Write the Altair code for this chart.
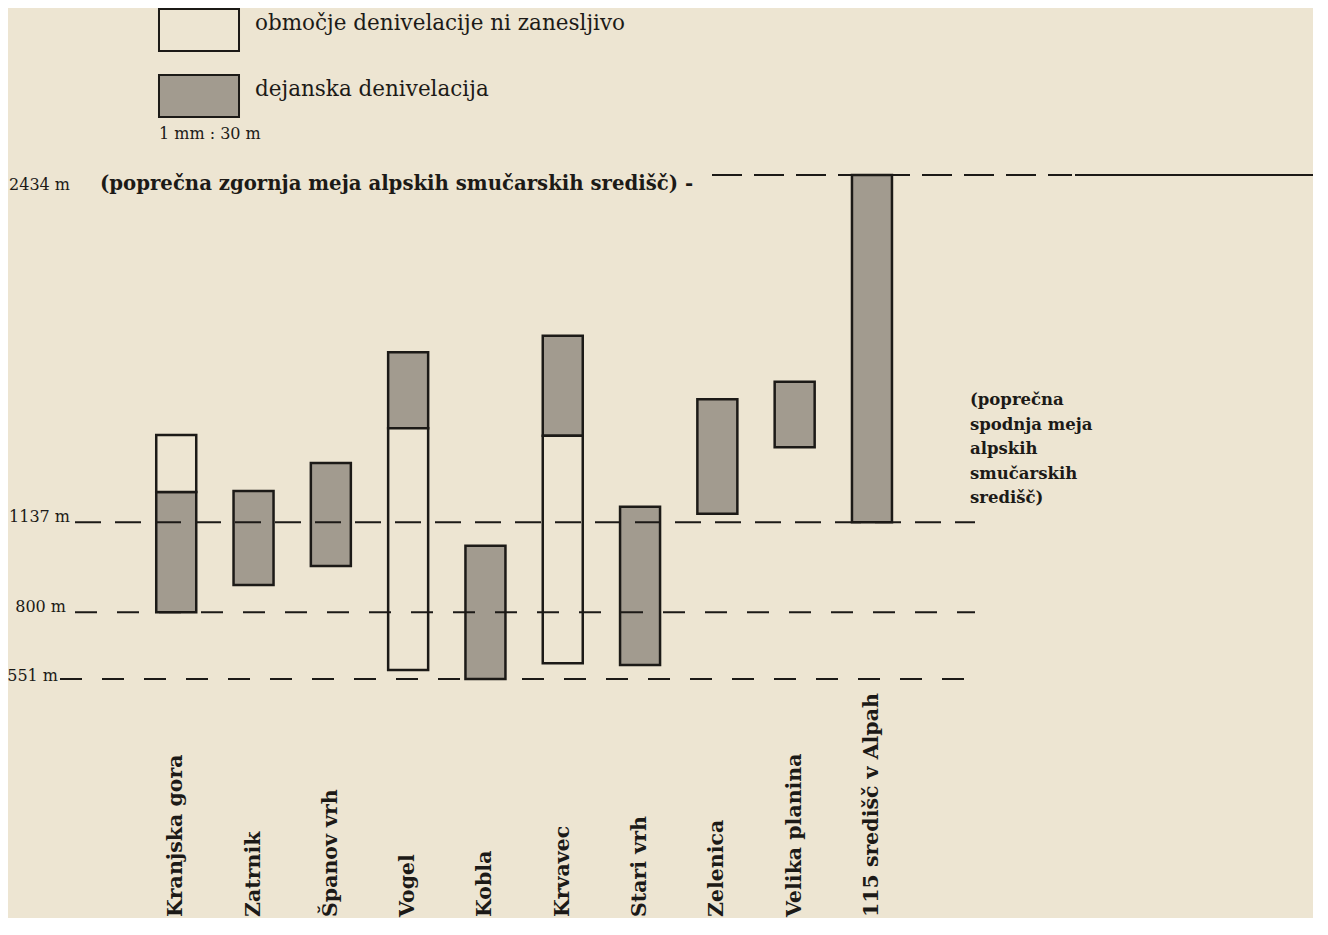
import altair as alt
import pandas as pd

# ---------------- data ----------------
names = ["Kranjska gora", "Zatrnik", "Španov vrh", "Vogel", "Kobla", "Krvavec",
         "Stari vrh", "Zelenica", "Velika planina", "115 središč v Alpah"]
# dejanska denivelacija (hatched part), metres
actual_lo = [800, 902, 973, 1488, 551, 1460, 603, 1168, 1417, 1137]
actual_hi = [1250, 1253, 1358, 1772, 1049, 1833, 1195, 1596, 1662, 2434]
# območje denivelacije ni zanesljivo (outlined part), metres; None = none
unrel_lo = [1250, None, None, 585, None, 610, None, None, None, None]
unrel_hi = [1463, None, None, 1488, None, 1460, None, None, None, None]

ref_levels = [2434, 1137, 800, 551]
ref_labels = ["2434 m", "1137 m", "800 m", "551 m"]

LEG_UNREL = "območje denivelacije ni zanesljivo"
LEG_ACT = "dejanska denivelacija"
SCALE_NOTE = "1 mm  :  30 m"
TOP_NOTE = "(poprečna zgornja meja alpskih smučarskih središč) -"
LOW_NOTE = "(poprečna\nspodnja meja\nalpskih\nsmučarskih\nsredišč)"

# ---------------- style / layout ----------------
PAPER = "#ede5d2"
STIPPLE = "#a29b8f"
INK = "#1c1a17"
SERIF = "DejaVu Serif"
W, H = 1305, 910

# x: station index -> pixels (first bar centre 164.5 px, spacing 77.9 px)
x0 = -164.5 / 77.9
xscale = alt.Scale(domain=[x0, x0 + W / 77.9], nice=False, zero=False)
# y: metres -> pixels (2434 m at 167 px, 3.736 m per px)
ytop = 2434 + 167 * 3.736
ybot = 2434 - (H - 167) * 3.736
yscale = alt.Scale(domain=[ybot, ytop], nice=False, zero=False)

rows = []
for i, n in enumerate(names):
    rows.append({"idx": i, "name": n, "lo": actual_lo[i], "hi": actual_hi[i], "kind": LEG_ACT})
    if unrel_lo[i] is not None:
        rows.append({"idx": i, "name": n, "lo": unrel_lo[i], "hi": unrel_hi[i], "kind": LEG_UNREL})
seg = pd.DataFrame(rows)
stations = pd.DataFrame({"idx": list(range(len(names))), "name": names})

legend = alt.Legend(
    orient="none", legendX=169, legendY=0, padding=0, title=None,
    symbolType="M-1.905,-1H1.905V1H-1.905Z", symbolSize=1764,
    symbolStrokeColor=INK, symbolStrokeWidth=2, symbolOpacity=1,
    labelFont=SERIF, labelFontSize=21.5, labelColor=INK, labelOffset=34,
    labelBaseline="alphabetic", labelLimit=700, rowPadding=16,
)

bars = alt.Chart(seg).mark_bar(size=40, stroke=INK, strokeWidth=2.5, opacity=1).encode(
    x=alt.X("idx:Q", scale=xscale, axis=None),
    y=alt.Y("lo:Q", scale=yscale, axis=None),
    y2="hi:Q",
    fill=alt.Fill("kind:N", scale=alt.Scale(domain=[LEG_UNREL, LEG_ACT], range=[PAPER, STIPPLE]),
                  legend=legend),
)

# reference lines: (x start px, x end px, dash)
line_style = {
    2434: [(704, 1064, [30, 12]), (1067, W, [1, 0])],
    1137: [(67, 967, [26, 14])],
    800: [(67, 967, [22, 20])],
    551: [(52, 957, [22, 20])],
}
label_pos = {2434: (62, 15), 1137: (62, 0), 800: (58, 0), 551: (50, 2)}

layers = [bars]
for lv, lab in zip(ref_levels, ref_labels):
    for xa, xb, dash in line_style[lv]:
        layers.append(
            alt.Chart(pd.DataFrame({"v": [lv]})).mark_rule(
                color=INK, strokeWidth=2, strokeDash=dash
            ).encode(y=alt.Y("v:Q", scale=yscale, axis=None), x=alt.value(xa), x2=alt.value(xb))
        )
    lx, ldy = label_pos[lv]
    layers.append(
        alt.Chart(pd.DataFrame({"v": [lv], "t": [lab]})).mark_text(
            font=SERIF, fontSize=16, color=INK, align="right", baseline="alphabetic", dy=ldy
        ).encode(y=alt.Y("v:Q", scale=yscale, axis=None), x=alt.value(lx), text="t:N")
    )

scale_note = alt.Chart(pd.DataFrame({"t": [SCALE_NOTE]})).mark_text(
    font=SERIF, fontSize=16, color=INK, align="left", baseline="alphabetic"
).encode(x=alt.value(151), y=alt.value(131), text="t:N")

top_note = alt.Chart(pd.DataFrame({"v": [ref_levels[0]], "t": [TOP_NOTE]})).mark_text(
    font=SERIF, fontSize=19.7, fontWeight="bold", color=INK, align="left", baseline="alphabetic", dy=15
).encode(y=alt.Y("v:Q", scale=yscale, axis=None), x=alt.value(92), text="t:N")

low_note = alt.Chart(pd.DataFrame({"t": [LOW_NOTE]})).mark_text(
    font=SERIF, fontSize=16.5, fontWeight="bold", color=INK, align="left", baseline="top",
    lineBreak="\n", lineHeight=24.5
).encode(x=alt.value(962), y=alt.value(384), text="t:N")

names_txt = alt.Chart(stations).mark_text(
    font=SERIF, fontSize=20.5, fontWeight="bold", color=INK, angle=270,
    align="left", baseline="middle"
).encode(x=alt.X("idx:Q", scale=xscale, axis=None), y=alt.value(909), text="name:N")

layers += [scale_note, top_note, low_note, names_txt]

chart = alt.layer(*layers).properties(
    width=W, height=H, padding=0, background=PAPER,
    autosize=alt.AutoSizeParams(type="none"),
).configure_view(stroke=None)

chart.save("out.html", embed_options={"renderer": "svg", "actions": False})
